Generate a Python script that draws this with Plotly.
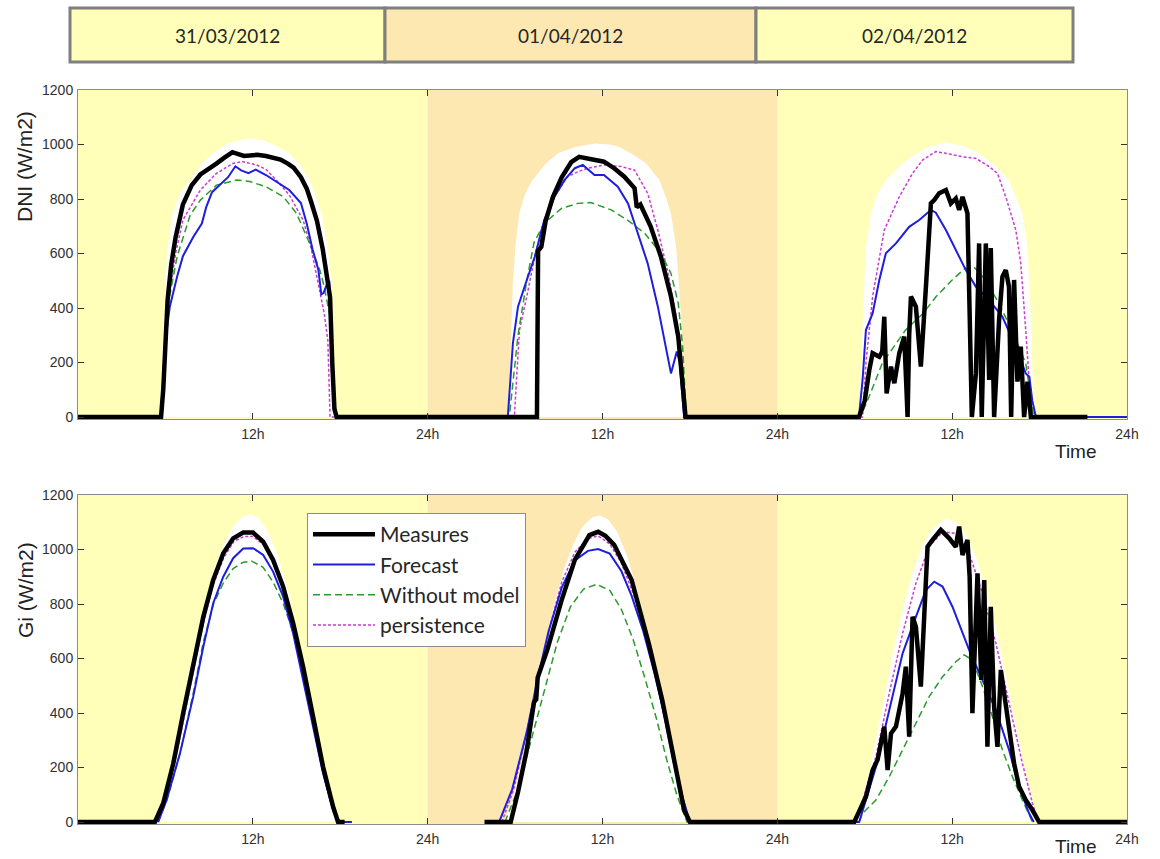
import plotly.graph_objects as go

# ---------------- DATA (hours from 31/03/2012 00:00, W/m2) ----------------
DAY_LABELS = ["31/03/2012", "01/04/2012", "02/04/2012"]
X_TICK_VALS = [12, 24, 36, 48, 60, 72]
X_TICK_TEXT = ["12h", "24h", "12h", "24h", "12h", "24h"]
Y_TICK_VALS = [0, 200, 400, 600, 800, 1000, 1200]

# ---- DNI panel ----
DNI_CLEAR_T = [5.6, 5.75, 5.95, 6.1, 6.5, 7.0, 7.7, 8.5, 9.3, 10.3, 11.6, 12.8, 13.8, 14.5, 15.3, 15.9, 16.4, 16.7, 17.15, 17.4, 17.55, 17.65,
               29.55, 29.7, 29.85, 30.05, 30.3, 30.7, 31.2, 32.1, 33.0, 34.2, 35.5, 36.5, 37.2, 38.2, 39.0, 39.9, 40.4, 40.7, 41.05, 41.3, 41.45, 41.6,
               53.6, 53.75, 53.9, 54.08, 54.42, 54.9, 55.45, 56.6, 57.5, 58.42, 59.57, 60.94, 61.9, 62.77, 63.9, 64.4, 64.82, 65.17, 65.4, 65.6]
DNI_CLEAR_V = [0, 200, 380, 600, 750, 820, 870, 930, 968, 1005, 1023, 1015, 990, 968, 920, 870, 800, 750, 620, 480, 250, 0,
               0, 250, 500, 640, 750, 820, 870, 930, 970, 992, 1004, 1000, 990, 960, 930, 870, 800, 745, 625, 450, 300, 0,
               0, 200, 380, 625, 747, 820, 870, 931, 965, 992, 1007, 992, 965, 931, 870, 800, 747, 625, 380, 0]

DNI_MEAS_T = [0, 5.7, 5.85, 6.0, 6.15, 6.4, 6.7, 7.2, 7.8, 8.4, 9.0, 9.5, 10.0, 10.6, 11.0, 11.4, 11.8, 12.3, 12.9, 13.4, 13.9, 14.4, 14.8,
              15.3, 15.7, 16.0, 16.4, 16.8, 17.1, 17.3, 17.45, 17.6, 17.75,
              31.5, 31.58, 31.8, 32.1, 32.6, 33.2, 33.85, 34.4, 35.2, 36.1, 36.8, 37.5, 38.2, 38.35, 38.6, 39.3, 40.0, 40.7, 41.2, 41.5, 41.7,
              53.6, 54.0, 54.31, 54.54, 55.0, 55.2, 55.34, 55.5, 55.8, 56.03, 56.37, 56.71, 56.85, 56.94, 57.05, 57.17, 57.51, 57.85,
              58.2, 58.4, 58.54, 58.77, 59.11, 59.57, 59.91, 60.25, 60.48, 60.71, 61.05, 61.2, 61.35, 61.63, 61.85, 62.03, 62.31,
              62.54, 62.65, 62.88, 63.22, 63.45, 63.68, 63.9, 64.05, 64.25, 64.48, 64.71, 64.94, 65.17, 65.4, 69.28]
DNI_MEAS_V = [0, 0, 100, 300, 430, 560, 660, 780, 850, 890, 910, 930, 950, 972, 965, 958, 960, 962, 958, 952, 945, 930, 915,
              880, 838, 790, 720, 615, 520, 440, 200, 30, 0,
              0, 610, 625, 720, 808, 880, 935, 955, 946, 937, 913, 882, 840, 770, 780, 700, 590, 442, 295, 125, 0,
              0, 60, 172, 234, 221, 240, 368, 87, 185, 124, 234, 295, 120, 0, 300, 442, 405, 185,
              478, 700, 784, 796, 821, 833, 784, 802, 760, 808, 747, 380, 0, 160, 637, 0, 637,
              136, 620, 0, 356, 515, 539, 478, 0, 503, 130, 258, 0, 130, 0, 0]

DNI_FCST_T = [5.7, 5.85, 6.0, 6.3, 6.8, 7.2, 7.9, 8.5, 8.8, 9.2, 9.7, 10.3, 10.8, 11.2, 11.7, 12.2, 12.9, 13.6, 14.5, 15.3, 15.7, 16.1,
              16.5, 16.7, 16.85, 17.1, 17.25, 17.4, 17.55, 17.7,
              29.5, 29.85, 30.2, 30.65, 31.35, 32.0, 32.7, 33.4, 34.1, 34.65, 35.45, 36.1, 37.05, 37.75, 38.4, 39.1, 39.8, 40.35, 40.7,
              41.1, 41.3, 41.6,
              53.6, 53.85, 54.08, 54.54, 55.0, 55.45, 56.14, 57.05, 57.74, 58.54, 58.88, 59.57, 60.25, 60.94, 61.63, 62.54, 63.45,
              64.37, 65.05, 65.3, 65.5, 65.75, 72]
DNI_FCST_V = [0, 150, 280, 405, 515, 590, 660, 710, 770, 825, 850, 880, 920, 905, 895, 908, 888, 864, 833, 785, 710, 615,
              540, 450, 455, 490, 500, 300, 100, 0,
              0, 270, 405, 478, 588, 723, 808, 870, 913, 925, 888, 888, 845, 784, 674, 564, 405, 258, 160,
              240, 200, 0,
              0, 136, 319, 380, 503, 601, 637, 698, 723, 760, 750, 686, 613, 539, 478, 429, 368,
              258, 160, 148, 60, 0, 0]

DNI_NOMODEL_T = [5.7, 5.9, 6.2, 6.8, 7.7, 8.4, 9.5, 10.9, 11.8, 12.9, 14.1, 15.0, 15.9, 16.6, 16.9, 17.3, 17.5, 17.7,
                 29.6, 30.2, 30.8, 31.3, 32.0, 33.2, 34.3, 35.2, 36.6, 37.7, 38.9, 40.0, 40.7, 41.2, 41.5, 41.75,
                 53.7, 54.3, 55.2, 56.8, 58.0, 58.9, 60.0, 60.9, 61.5, 62.3, 63.2, 64.1, 65.05, 65.4, 65.6]
DNI_NOMODEL_V = [0, 200, 418, 588, 741, 796, 851, 870, 864, 845, 808, 747, 637, 539, 478, 368, 136, 0,
                 0, 300, 500, 640, 711, 766, 784, 787, 760, 723, 674, 601, 527, 417, 258, 0,
                 0, 75, 197, 319, 380, 442, 503, 546, 550, 503, 417, 319, 197, 75, 0]

DNI_PERS_T = [5.7, 5.9, 6.2, 6.7, 7.2, 8.4, 9.5, 10.65, 11.3, 12.25, 12.9, 13.6, 14.5, 15.45, 16.0, 16.6, 16.9, 17.15, 17.3,
              29.95, 30.3, 30.8, 31.35, 31.8, 32.7, 33.6, 34.3, 35.0, 36.1, 37.3, 38.2, 39.1, 39.8, 40.5, 41.05, 41.4, 41.7,
              53.85, 54.08, 54.54, 55.34, 56.37, 57.28, 57.97, 58.88, 59.8, 60.71, 61.63, 62.54, 63.11, 63.68, 64.37, 64.71,
              65.05, 65.28, 65.45]
DNI_PERS_V = [0, 220, 430, 600, 723, 833, 894, 931, 937, 925, 909, 870, 815, 723, 620, 466, 380, 280, 0,
              0, 319, 442, 588, 686, 808, 882, 900, 913, 925, 919, 906, 821, 686, 527, 368, 200, 0,
              0, 197, 442, 686, 808, 894, 943, 974, 965, 955, 949, 919, 894, 808, 686, 564,
              319, 136, 0]

# ---- Gi panel ----
GI_CLEAR_T = [5.2, 5.8, 6.5, 7.2, 7.9, 8.6, 9.3, 10.0, 10.65, 11.3, 11.8, 12.4, 13.0, 13.7, 14.4, 15.1, 15.8, 16.5, 17.2, 17.8, 18.0,
              29.2, 29.8, 30.5, 31.2, 31.9, 32.6, 33.3, 34.0, 34.65, 35.3, 35.8, 36.4, 37.0, 37.7, 38.4, 39.1, 39.8, 40.5, 41.2, 41.8, 42.0,
              53.2, 53.8, 54.5, 55.2, 55.9, 56.6, 57.3, 58.0, 58.65, 59.3, 59.6, 60.3, 61.0, 61.7, 62.4, 63.1, 63.8, 64.5, 65.2, 65.8, 66.0]
GI_CLEAR_V = [0, 80, 230, 420, 610, 780, 920, 1020, 1085, 1120, 1130, 1115, 1070, 980, 850, 690, 500, 310, 130, 20, 0,
              0, 80, 230, 420, 610, 780, 920, 1020, 1085, 1118, 1125, 1110, 1065, 975, 845, 685, 495, 305, 125, 20, 0,
              0, 80, 230, 420, 610, 780, 920, 1020, 1075, 1105, 1114, 1100, 1050, 965, 840, 690, 500, 320, 140, 25, 0]

GI_MEAS_T = [0, 5.28, 5.85, 6.54, 7.22, 7.91, 8.6, 9.28, 9.97, 10.65, 11.34, 12.02, 12.71, 13.39, 14.08, 14.77, 15.45, 16.14, 16.82,
             17.51, 17.85, 18.3, None,
             27.9, 29.7, 30.2, 30.8, 31.3, 31.45, 31.55, 32.2, 33.2, 34.1, 35.1, 35.7, 36.2, 36.8, 38.0, 39.2, 40.1, 40.9, 41.6, 42.0,
             53.28, 54.08, 54.54, 54.88, 55.34, 55.57, 55.8, 56.14, 56.35, 56.6, 56.82, 57.05, 57.28, 57.51, 57.85, 58.08, 58.31,
             58.65, 59.22, 59.8, 60.25, 60.48, 60.71, 61.05, 61.2, 61.39, 61.62, 61.74, 62.0, 62.2, 62.42, 62.65, 62.88, 63.11,
             63.34, 63.57, 63.79, 64.02, 64.25, 64.59, 65.05, 65.51, 65.97, 72]
GI_MEAS_V = [0, 0, 69, 215, 399, 582, 753, 888, 986, 1041, 1062, 1062, 1029, 962, 864, 729, 570, 386, 203,
             56, 0, 0, None,
             0, 0, 110, 264, 440, 450, 530, 630, 815, 962, 1053, 1065, 1050, 1017, 888, 650, 448, 228, 44, 0,
             0, 93, 191, 228, 350, 191, 325, 350, 400, 472, 570, 313, 753, 717, 497, 766, 1010,
             1035, 1072, 1041, 1010, 1084, 980, 1035, 900, 399, 766, 913, 521, 888, 276, 790, 423, 276,
             558, 472, 399, 325, 215, 130, 81, 44, 0, 0]

GI_FCST_T = [5.5, 6.08, 7.0, 7.91, 8.6, 9.28, 9.97, 10.65, 11.34, 12.02, 12.71, 13.39, 14.08, 14.77, 15.45, 16.14, 16.82, 17.51, 17.96, 18.8, None,
             28.9, 29.8, 30.8, 31.6, 32.3, 33.2, 34.1, 35.0, 35.7, 36.5, 37.3, 38.0, 38.8, 39.6, 40.3, 40.9, 41.5, 42.0,
             53.62, 54.77, 55.68, 56.6, 57.51, 58.2, 58.77, 59.34, 60.02, 60.71, 61.17, 62.08, 63.0, 63.91, 64.59, 65.28, 65.6]
GI_FCST_V = [0, 81, 252, 460, 643, 803, 900, 968, 1004, 1005, 980, 919, 827, 692, 521, 350, 179, 44, 0, 0, None,
             0, 120, 330, 540, 700, 860, 960, 995, 1002, 985, 920, 830, 700, 540, 380, 230, 90, 0,
             0, 203, 411, 619, 753, 851, 882, 864, 790, 692, 631, 521, 411, 264, 130, 32, 0]

GI_NOMODEL_T = [5.5, 6.1, 7.0, 7.9, 8.6, 9.3, 10.0, 10.65, 11.3, 11.9, 12.7, 13.4, 14.1, 14.8, 15.45, 16.14, 16.8, 17.5, 17.9, None,
                29.3, 30.2, 31.1, 32.0, 32.9, 33.8, 34.7, 35.6, 36.5, 37.3, 38.1, 38.9, 39.7, 40.4, 41.1, 41.8,
                53.6, 53.85, 54.77, 55.68, 56.6, 57.51, 58.42, 59.34, 60.25, 60.82, 61.4, 62.08, 62.77, 63.45, 64.14, 64.82, 65.51]
GI_NOMODEL_V = [0, 80, 250, 470, 660, 800, 880, 930, 952, 958, 935, 880, 800, 690, 530, 360, 190, 50, 0, None,
                0, 120, 300, 480, 660, 790, 855, 872, 850, 780, 670, 530, 380, 230, 100, 0,
                0, 32, 81, 166, 264, 362, 460, 533, 588, 613, 595, 497, 386, 264, 166, 81, 0]

GI_PERS_T = [5.4, 6.0, 6.8, 7.6, 8.4, 9.2, 10.0, 10.7, 11.4, 12.0, 12.7, 13.4, 14.1, 14.8, 15.45, 16.14, 16.8, 17.5, 17.9, None,
             29.1, 29.9, 30.8, 31.6, 32.4, 33.2, 34.1, 35.0, 35.7, 36.5, 37.3, 38.1, 38.9, 39.6, 40.3, 40.9, 41.5, 42.0,
             53.4, 54.77, 55.68, 56.6, 57.51, 58.42, 59.34, 60.25, 61.17, 62.08, 63.0, 63.91, 64.82, 65.51, 65.9]
GI_PERS_V = [0, 80, 260, 470, 680, 860, 970, 1030, 1048, 1048, 1020, 950, 855, 720, 560, 380, 200, 55, 0, None,
             0, 120, 330, 530, 720, 880, 990, 1040, 1050, 1020, 950, 840, 700, 540, 370, 210, 70, 0,
             0, 240, 472, 692, 876, 1010, 1065, 1059, 986, 839, 656, 436, 215, 69, 0]

# ---------------- STYLE ----------------
W, H = 1160, 859
YELLOW = "#FFFFB9"
TAN = "#FDE8B2"
C_MEAS = "#000000"
C_FCST = "#1E1EDC"
C_NOMODEL = "#2E9A2E"
C_PERS = "#C83CD2"
TICK_FONT = dict(family="Liberation Sans, Arial, sans-serif", size=14, color="#303030")
LBL_FONT = dict(family="Liberation Sans, Arial, sans-serif", size=19, color="#222222")
CAL_FONT = dict(family="Lato, 'Open Sans', sans-serif", size=19, color="#262626")
LEG_FONT = dict(family="Lato, 'Open Sans', sans-serif", size=21, color="#262626")

def py(p):  # pixel-from-top -> paper y
    return 1 - p / H

def px(p):
    return p / W

X0, X1 = 78, 1127
PANELS = [(90, 419.2), (495, 824.2)]   # top/bottom pixel rows of each plot area (range -8..1200)

fig = go.Figure()

def add_panel(row, clear, meas, fcst, nomodel, pers, show):
    xa = "x" if row == 0 else "x2"
    ya = "y" if row == 0 else "y2"
    fig.add_trace(go.Scatter(x=clear[0], y=clear[1], xaxis=xa, yaxis=ya, mode="lines",
                             line=dict(width=0, color="white"), fill="tozeroy", fillcolor="white",
                             showlegend=False, hoverinfo="skip"))
    fig.add_trace(go.Scatter(x=pers[0], y=pers[1], xaxis=xa, yaxis=ya, mode="lines", name="persistence",
                             line=dict(color=C_PERS, width=1.5, dash="3px,2px"), showlegend=show, legendrank=4,
                             connectgaps=False))
    fig.add_trace(go.Scatter(x=nomodel[0], y=nomodel[1], xaxis=xa, yaxis=ya, mode="lines", name="Without model",
                             line=dict(color=C_NOMODEL, width=1.5, dash="7px,4px"), showlegend=show, legendrank=3,
                             connectgaps=False))
    fig.add_trace(go.Scatter(x=fcst[0], y=fcst[1], xaxis=xa, yaxis=ya, mode="lines", name="Forecast",
                             line=dict(color=C_FCST, width=2), showlegend=show, legendrank=2, connectgaps=False))
    fig.add_trace(go.Scatter(x=meas[0], y=meas[1], xaxis=xa, yaxis=ya, mode="lines", name="Measures",
                             line=dict(color=C_MEAS, width=4.5), showlegend=show, legendrank=1, connectgaps=False))

add_panel(0, (DNI_CLEAR_T, DNI_CLEAR_V), (DNI_MEAS_T, DNI_MEAS_V), (DNI_FCST_T, DNI_FCST_V),
          (DNI_NOMODEL_T, DNI_NOMODEL_V), (DNI_PERS_T, DNI_PERS_V), False)
add_panel(1, (GI_CLEAR_T, GI_CLEAR_V), (GI_MEAS_T, GI_MEAS_V), (GI_FCST_T, GI_FCST_V),
          (GI_NOMODEL_T, GI_NOMODEL_V), (GI_PERS_T, GI_PERS_V), True)

axis_common = dict(showline=True, linecolor="#8C8C8C", linewidth=1, mirror="ticks", ticks="inside",
                   ticklen=6, tickcolor="#333333", showgrid=False, zeroline=False, tickfont=TICK_FONT,
                   automargin=False)
xcommon = dict(axis_common, range=[0, 72], tickvals=X_TICK_VALS, ticktext=X_TICK_TEXT, domain=[px(X0), px(X1)],
               ticklabelstandoff=2)
ycommon = dict(axis_common, range=[-8, 1200], tickvals=Y_TICK_VALS, ticklabelstandoff=1)

fig.update_layout(
    template="none",
    width=W, height=H, margin=dict(l=0, r=0, t=0, b=0, pad=0, autoexpand=False),
    paper_bgcolor="white", plot_bgcolor=YELLOW,
    xaxis=dict(xcommon, anchor="y"),
    yaxis=dict(ycommon, anchor="x", domain=[py(PANELS[0][1]), py(PANELS[0][0])]),
    xaxis2=dict(xcommon, anchor="y2"),
    yaxis2=dict(ycommon, anchor="x2", domain=[py(PANELS[1][1]), py(PANELS[1][0])]),
    legend=dict(x=px(307), y=py(513), xanchor="left", yanchor="top", bgcolor="white",
                bordercolor="#8C8C8C", borderwidth=1, font=LEG_FONT, tracegroupgap=0,
                itemwidth=62),
    showlegend=True,
)

# day-2 shading behind curves
for xr, yr in (("x", "y domain"), ("x2", "y2 domain")):
    fig.add_shape(type="rect", xref=xr, yref=yr, x0=24, x1=48, y0=0, y1=1,
                  fillcolor=TAN, line=dict(width=0), layer="below")

# header boxes with the dates
HEADER_EDGES = [70, 385, 756, 1073]
HEADER_FILLS = [YELLOW, TAN, YELLOW]
for i, lab in enumerate(DAY_LABELS):
    fig.add_shape(type="rect", xref="paper", yref="paper",
                  x0=px(HEADER_EDGES[i]), x1=px(HEADER_EDGES[i + 1]), y0=py(62), y1=py(8),
                  fillcolor=HEADER_FILLS[i], line=dict(color="#7F7F7F", width=3))
    fig.add_annotation(x=px((HEADER_EDGES[i] + HEADER_EDGES[i + 1]) / 2), y=py(35), xref="paper", yref="paper",
                       text=lab, showarrow=False, font=CAL_FONT, xanchor="center", yanchor="middle")

# axis titles
fig.add_annotation(x=px(25), y=py(167), xref="paper", yref="paper", text="DNI (W/m2)", textangle=-90,
                   showarrow=False, font=dict(LBL_FONT, size=21), xanchor="center", yanchor="middle")
fig.add_annotation(x=px(25), y=py(590), xref="paper", yref="paper", text="Gi (W/m2)", textangle=-90,
                   showarrow=False, font=dict(LBL_FONT, size=21), xanchor="center", yanchor="middle")
for ty in (451, 846):
    fig.add_annotation(x=px(1076), y=py(ty), xref="paper", yref="paper", text="Time", showarrow=False,
                       font=LBL_FONT, xanchor="center", yanchor="middle")

fig.write_html("out.html")
